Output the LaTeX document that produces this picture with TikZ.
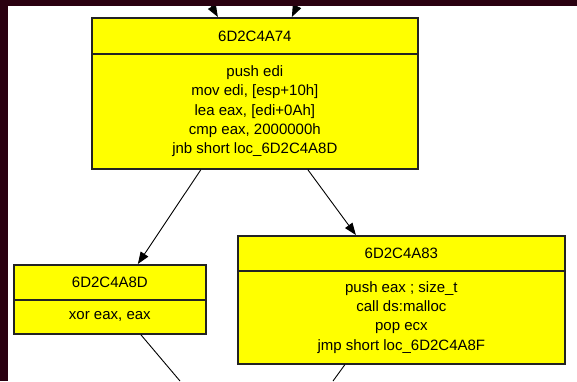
\documentclass[tikz,border=0pt]{standalone}
\usepackage{fontspec}
\setmainfont{Liberation Sans}
\usetikzlibrary{arrows.meta}
\definecolor{frame}{RGB}{42,0,16}
\definecolor{boxfill}{RGB}{255,255,0}
\definecolor{boxline}{RGB}{35,35,35}
\tikzset{
  blockpart/.style={draw=boxline, line width=1.7pt, fill=boxfill, rectangle,
    anchor=north west, align=center, inner sep=0pt,
    font=\fontsize{15}{19.3}\selectfont},
  flow/.style={draw=black, line width=0.9pt},
  flowarrow/.style={flow, -{Triangle[length=12pt,width=9pt]}}
}
\begin{document}
\begin{tikzpicture}[x=1pt,y=-1pt]
  \useasboundingbox (0,0) rectangle (577,381);
  \fill[white] (0,0) rectangle (577,381);

  % block at 6D2C4A74
  \node[blockpart, minimum width=326pt, minimum height=36pt] (mainh) at (91,17) {6D2C4A74};
  \node[blockpart, minimum width=326pt, minimum height=115pt] (mainb) at (91,53)
    {push edi\\mov edi, [esp+10h]\\lea eax, [edi+0Ah]\\cmp eax, 2000000h\\jnb short loc\_6D2C4A8D};

  % block at 6D2C4A8D
  \node[blockpart, minimum width=192pt, minimum height=35pt] (lefth) at (13,264) {6D2C4A8D};
  \node[blockpart, minimum width=192pt, minimum height=34pt] (leftb) at (13,299) {xor eax, eax};

  % block at 6D2C4A83
  \node[blockpart, minimum width=327pt, minimum height=35pt] (righth) at (237,235) {6D2C4A83};
  \node[blockpart, minimum width=327pt, minimum height=93pt] (rightb) at (237,270)
    {push eax ; size\_t\\call ds:malloc\\pop ecx\\jmp short loc\_6D2C4A8F};

  % loose ends entering and leaving the view
  \coordinate (in1) at (208,0);
  \coordinate (in2) at (300,0);
  \coordinate (out1) at (180,381);
  \coordinate (out2) at (333,381);

  % incoming edges
  \draw[flowarrow] (in1) -- ([xshift=-37pt]mainh.north);
  \draw[flowarrow] (in2) -- ([xshift=37pt]mainh.north);

  % branches
  \draw[flowarrow] ([xshift=-54pt]mainb.south) -- ([xshift=28pt]lefth.north);
  \draw[flowarrow] ([xshift=53pt]mainb.south) -- ([xshift=-45.5pt]righth.north);

  % outgoing edges
  \draw[flow] ([xshift=31pt]leftb.south) -- (out1);
  \draw[flow] ([xshift=-56.5pt]rightb.south) -- (out2);

  % window frame
  \fill[frame] (0,0) rectangle (577,6);
  \fill[frame] (0,0) rectangle (8,381);
\end{tikzpicture}
\end{document}
